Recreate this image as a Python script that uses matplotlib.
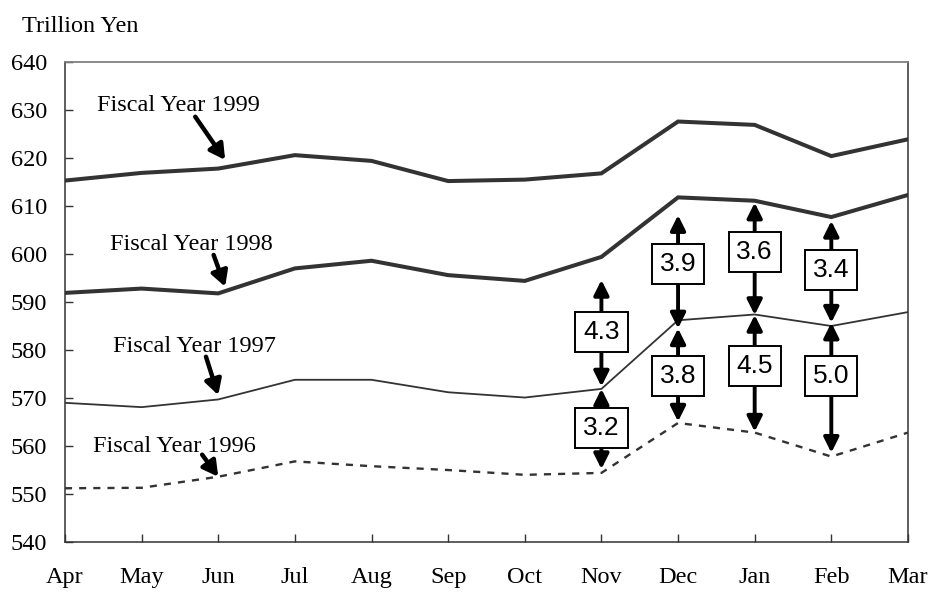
import matplotlib.pyplot as plt

months = ['Apr', 'May', 'Jun', 'Jul', 'Aug', 'Sep', 'Oct', 'Nov', 'Dec', 'Jan', 'Feb', 'Mar']

fy1999 = [615.3, 616.9, 617.8, 620.6, 619.4, 615.2, 615.5, 616.8, 627.6, 626.9, 620.4, 623.9]
fy1998 = [591.9, 592.8, 591.8, 597.0, 598.6, 595.6, 594.4, 599.4, 611.8, 611.1, 607.7, 612.3]
fy1997 = [569.0, 568.1, 569.7, 573.8, 573.8, 571.2, 570.1, 571.9, 586.2, 587.4, 585.0, 587.9]
fy1996 = [551.2, 551.3, 553.6, 556.8, 555.8, 555.0, 554.0, 554.4, 564.8, 562.8, 557.8, 562.8]

# growth labels between series (upper: FY98 vs FY97, lower: FY97 vs FY96)
gap_months = [7, 8, 9, 10]
upper_labels = ['4.3', '3.9', '3.6', '3.4']
lower_labels = ['3.2', '3.8', '4.5', '5.0']
upper_top = [594.6, 608.1, 610.7, 606.9]
upper_bottom = [572.4, 584.5, 587.3, 585.7]
upper_box = [583.8, 597.9, 600.4, 596.7]
lower_top = [571.9, 584.5, 587.3, 585.7]
lower_bottom = [555.2, 565.1, 563.0, 558.6]
lower_box = [563.8, 574.6, 576.7, 574.6]

series_labels = ['Fiscal Year 1999', 'Fiscal Year 1998', 'Fiscal Year 1997', 'Fiscal Year 1996']
label_pos = [(0.42, 631.0), (0.59, 601.9), (0.63, 580.7), (0.37, 559.8)]
label_tail = [(1.70, 628.6), (1.94, 599.8), (1.84, 578.6), (1.79, 558.2)]
label_tip = [(2.09, 619.6), (2.09, 593.2), (2.00, 570.6), (2.00, 553.6)]

serif = 'Liberation Serif'
sans = 'Liberation Sans'
col = '#333333'

fig = plt.figure(figsize=(9.32, 5.94), dpi=100)
ax = fig.add_axes([0.0697, 0.0875, 0.9045, 0.8081])

x = list(range(len(months)))
ax.plot(x, fy1999, color=col, lw=2.9, solid_joinstyle='miter')
ax.plot(x, fy1998, color=col, lw=2.9, solid_joinstyle='miter')
ax.plot(x, fy1997, color=col, lw=1.3)
ax.plot(x, fy1996, color=col, lw=1.7, dashes=(3, 3))

ax.set_xlim(0, 11)
ax.set_ylim(540, 640)
ax.set_yticks(range(540, 641, 10))
ax.set_xticks(x)
ax.set_xticklabels(months, fontfamily=serif, fontsize=17.5)
for lab in ax.get_yticklabels():
    lab.set_fontfamily(serif)
    lab.set_fontsize(17.5)
ax.tick_params(axis='y', direction='in', length=6, width=1.0, pad=13, colors=col, labelcolor='black')
ax.tick_params(axis='x', direction='in', length=6, width=1.0, pad=18, colors=col, labelcolor='black')

for side in ['left', 'bottom', 'right']:
    ax.spines[side].set_color(col)
    ax.spines[side].set_linewidth(1.1)
ax.spines['top'].set_color('#808080')
ax.spines['top'].set_linewidth(1.3)

fig.text(0.0236, 0.955, 'Trillion Yen', fontfamily=serif, fontsize=17.5, va='center', ha='left')

# series labels with arrows
for txt, pos, tail, tip in zip(series_labels, label_pos, label_tail, label_tip):
    ax.text(pos[0], pos[1], txt, fontfamily=serif, fontsize=17.5, va='center', ha='left')
    ax.annotate('', xy=tip, xytext=tail,
                arrowprops=dict(arrowstyle='-|>,head_length=0.9,head_width=0.5',
                                color='black', lw=3.2, shrinkA=0, shrinkB=0))

# double arrows with boxed values
def gap_arrow(xi, top, bottom, boxy, label):
    ax.annotate('', xy=(xi, top), xytext=(xi, bottom),
                arrowprops=dict(arrowstyle='<|-|>,head_length=0.9,head_width=0.45',
                                color='black', lw=2.8, shrinkA=0, shrinkB=0), zorder=4)
    ax.text(xi, boxy, label, fontfamily=sans, fontsize=19, ha='center', va='center', zorder=5,
            bbox=dict(boxstyle='square,pad=0.3', fc='white', ec='black', lw=1.4))

for i, m in enumerate(gap_months):
    gap_arrow(m, upper_top[i], upper_bottom[i], upper_box[i], upper_labels[i])
    gap_arrow(m, lower_top[i], lower_bottom[i], lower_box[i], lower_labels[i])

fig.savefig('out.png', dpi=100)
